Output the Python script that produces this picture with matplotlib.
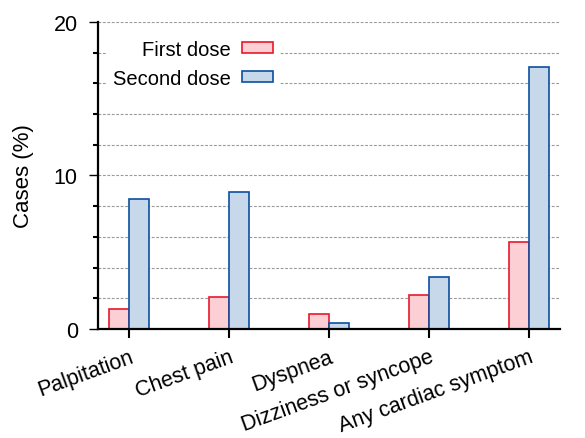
import matplotlib
matplotlib.use("Agg")
import matplotlib.pyplot as plt
import numpy as np

plt.rcParams['font.family'] = ['Liberation Sans', 'DejaVu Sans']

categories = ["Palpitation", "Chest pain", "Dyspnea", "Dizziness or syncope", "Any cardiac symptom"]
first_dose = [1.3, 2.1, 1.0, 2.2, 5.7]
second_dose = [8.5, 8.9, 0.4, 3.4, 17.1]

red_edge = "#e8192c"
red_fill = "#fbcfd3"
blue_edge = "#0b4fa0"
blue_fill = "#c6d8ea"

fig = plt.figure(figsize=(5.85, 4.39), dpi=100)
ax = fig.add_axes([0.1675, 0.2483, 0.957 - 0.1675, 0.9476 - 0.2483])

x = np.arange(len(categories))
w = 0.2
ax.bar(x - w / 2, first_dose, w, color=red_fill, edgecolor=red_edge, linewidth=1.2, label="First dose", zorder=2)
ax.bar(x + w / 2, second_dose, w, color=blue_fill, edgecolor=blue_edge, linewidth=1.2, label="Second dose", zorder=2)

ax.set_xlim(-0.31, 4.31)
ax.set_ylim(0, 20)
ax.set_yticks([0, 10, 20])
ax.set_yticks(np.arange(0, 21, 2), minor=True)
ax.set_xticks(x)
ax.set_xticklabels(categories, rotation=20, ha='right', va='top', rotation_mode='anchor')

# dashed grid behind the bars
ax.set_axisbelow(True)
ax.yaxis.grid(True, which='both', color='#999999', linewidth=0.8, dashes=(2.5, 1.5))

for s in ['top', 'right']:
    ax.spines[s].set_visible(False)
for s in ['left', 'bottom']:
    ax.spines[s].set_linewidth(1.6)

ax.tick_params(axis='both', which='major', direction='out', length=6.5, width=1.0, labelsize=15.5, pad=8)
ax.tick_params(axis='y', which='minor', direction='out', length=3.5, width=1.5)
ax.tick_params(axis='x', which='major', width=1.5, pad=6)

ax.set_ylabel("Cases (%)", fontsize=16, labelpad=14)

leg = ax.legend(loc='upper right', bbox_to_anchor=(0.394, 0.965), markerfirst=False, fontsize=14.5,
                frameon=True, framealpha=1, edgecolor='none', fancybox=False,
                handlelength=1.55, handleheight=0.5, handletextpad=0.55,
                labelspacing=0.5, borderpad=0.35, borderaxespad=0)
leg.set_zorder(2.4)

fig.savefig("out.png", dpi=100)
